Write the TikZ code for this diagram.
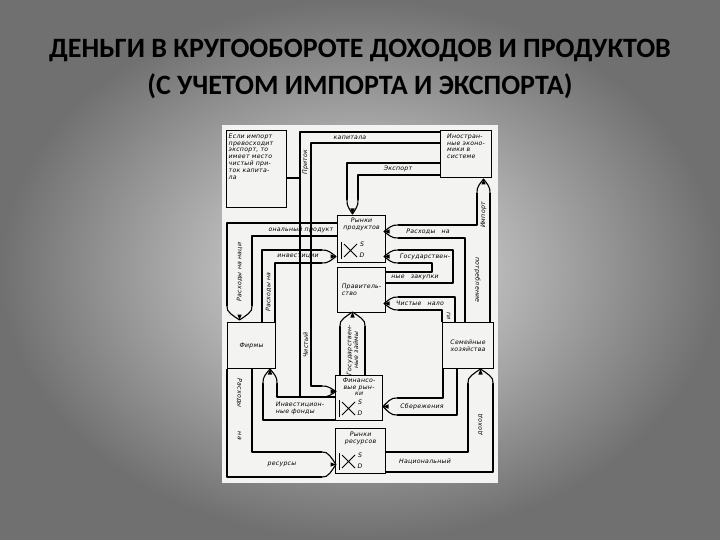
\documentclass[tikz,border=0pt]{standalone}
\usepackage{fontspec}
\setmainfont{Carlito}
\newfontfamily\handfont{DejaVu Sans}[LetterSpace=4]
\usetikzlibrary{positioning,calc}

\definecolor{paper}{RGB}{243,243,241}
\definecolor{slidein}{RGB}{228,228,228}
\definecolor{slideout}{RGB}{112,112,112}

% pencil-like arrow end: x, y, direction, half width
\newcommand{\pentip}[4]{%
  \begin{scope}[shift={(#1,#2)},rotate=#3]
    \draw[wall,fill=paper] (0,-#4) .. controls (6,-#4*1.1) and (10,-#4*0.45) .. (14,0)
      .. controls (10,#4*0.45) and (6,#4*1.1) .. (0,#4);
    \fill (8.5,-2.2) -- (14,0) -- (8.5,2.2) -- cycle;
  \end{scope}}
% small supply/demand cross: name, x, y of axis foot
\newcommand{\sdchart}[3]{%
  \draw[line width=0.8pt] (#2,#3-17) -- (#2,#3);
  \draw[line width=0.8pt] (#2+3,#3-15) -- (#2+16,#3-2) (#2+3,#3-2) -- (#2+16,#3-15);
  \node (#1S) [hand] at (#2+21,#3-15) {S};
  \node (#1D) [hand] at (#2+21,#3-4) {D};}

\begin{document}
\begin{tikzpicture}[x=1pt, y=-1pt,
  every node/.style={inner sep=0.5pt},
  hand/.style={font=\handfont\itshape\fontsize{6.2}{6.8}\selectfont},
  box/.style={draw, line width=1.1pt, inner sep=0pt, anchor=north west},
  boxtxt/.style={hand, align=center},
  wall/.style={line width=1.1pt, line join=round},
  lbl/.style={hand},
  title/.style={font=\bfseries\fontsize{28}{32}\selectfont, text=black}
]
  \useasboundingbox (0,0) rectangle (720,540);
  \shade[inner color=slidein, outer color=slideout] (0,0) rectangle (720,540);
  \fill[paper] (222,125) rectangle (498,483);

  % Title
  \node (title1) [title] at (360,50) {ДЕНЬГИ В КРУГООБОРОТЕ ДОХОДОВ И ПРОДУКТОВ};
  \node (title2) [title] at (360,86) {(С УЧЕТОМ ИМПОРТА И ЭКСПОРТА)};

  % Boxes
  \node (note) [box, minimum width=60, minimum height=77] at (226,130) {};
  \node (notetxt) [hand, align=left, anchor=north west] at (228,133)
    {Если импорт\\превосходит\\экспорт, то\\имеет место\\чистый при-\\ток капита-\\ла};
  \node (foreign) [box, minimum width=51, minimum height=47] at (440,130) {};
  \node (foreigntxt) [boxtxt, align=left, below=3pt of foreign.north]
    {Иностран-\\ные эконо-\\мики в\\системе};
  \node (prod) [box, minimum width=48, minimum height=47] at (337,215) {};
  \node (prodtxt) [boxtxt, below=2pt of prod.north] {Рынки\\продуктов};
  \node (gov) [box, minimum width=48, minimum height=45] at (337,267) {};
  \node (govtxt) [boxtxt, align=left] at (gov.center) {Правитель-\\ство};
  \node (firms) [box, minimum width=48, minimum height=46] at (227,322) {};
  \node (firmstxt) [boxtxt] at (firms.center) {Фирмы};
  \node (house) [box, minimum width=51, minimum height=46] at (442,322) {};
  \node (housetxt) [boxtxt] at (house.center) {Семейные\\хозяйства};
  \node (fin) [box, minimum width=47, minimum height=45] at (335,375) {};
  \node (fintxt) [boxtxt, below=2pt of fin.north] {Финансо-\\вые рын-\\ки};
  \node (res) [box, minimum width=50, minimum height=45] at (335,428) {};
  \node (restxt) [boxtxt, below=3pt of res.north] {Рынки\\ресурсов};
  \sdchart{prod}{341}{259}
  \sdchart{fin}{339}{417}
  \sdchart{res}{339}{470}

  % Pipes
  \draw[wall] (prod.west |- 0,223) -- (227,223) -- (227,306);
  \draw[wall] (prod.west |- 0,236) -- (252,236) -- (252,306);
  \pentip{239.5}{306}{-90}{12.5}

  \draw[wall] (firms.north -| 262,0) -- (262,250) -- (322,250);
  \draw[wall] (firms.north -| 275,0) -- (275,263) -- (322,263);
  \pentip{322}{256.5}{0}{6.5}

  \draw[wall] (foreign.west |- 0,132) -- (300,132) -- (300,397) -- (322,397);
  \draw[wall] (foreign.west |- 0,143) -- (311,143) -- (311,386) -- (322,386);
  \pentip{322}{391.5}{0}{5.5}
  \draw[wall] (note.east |- 0,178) -- (300,178);

  \draw[wall] (foreign.west |- 0,163) -- (347,163) -- (347,200);
  \draw[wall] (foreign.west |- 0,175) -- (358,175) -- (358,200);
  \pentip{352.5}{200}{-90}{5.5}

  \draw[wall] (490,193) -- (house.north -| 490,0);
  \draw[wall] (477,193) -- (477,225) -- (398,225);
  \draw[wall] (398,238) -- (465,238) -- (house.north -| 465,0);
  \pentip{483.5}{193}{90}{6.5}
  \pentip{398}{231.5}{180}{6.5}

  \draw[wall] (398,250) -- (453,250) -- (453,283) -- (gov.east |- 0,283);
  \draw[wall] (398,263) -- (432,263) -- (432,272) -- (gov.east |- 0,272);
  \pentip{398}{256.5}{180}{6.5}

  \draw[wall] (398,297) -- (455,297) -- (house.north -| 455,0);
  \draw[wall] (398,310) -- (442,310) -- (house.north -| 442,0);
  \pentip{398}{303.5}{180}{6.5}

  \draw[wall] (fin.north -| 340,0) -- (340,326);
  \draw[wall] (fin.north -| 365,0) -- (365,326);
  \pentip{352.5}{326}{90}{12.5}

  \draw[wall] (house.south -| 443,0) -- (443,398) -- (397,398);
  \draw[wall] (house.south -| 457,0) -- (457,415) -- (397,415);
  \pentip{397}{406.5}{180}{8.5}

  \draw[wall] (res.east |- 0,452) -- (468,452) -- (468,383);
  \draw[wall] (res.east |- 0,472) -- (493,472) -- (493,383);
  \pentip{480.5}{383}{90}{12.5}

  \draw[wall] (fin.west |- 0,397) -- (277,397) -- (277,383);
  \draw[wall] (fin.west |- 0,420) -- (263,420) -- (263,383);
  \pentip{270}{383}{90}{7}

  \draw[wall] (firms.south -| 227,0) -- (227,477) -- (322,477);
  \draw[wall] (firms.south -| 252,0) -- (252,452) -- (322,452);
  \pentip{322}{464.5}{0}{12.5}

  % Pipe labels
  \node (lbA1) [lbl, rotate=90] at (239.5,272) {Расходы на наци};
  \node (lbA2) [lbl, anchor=east] at (334,229.5) {ональный продукт};
  \node (lbB1) [lbl, rotate=90] at (268.5,292) {Расходы на};
  \node (lbB2) [lbl] at (298,256.5) {инвестиции};
  \node (lbC1) [lbl] at (350,137.5) {капитала};
  \node (lbC2) [lbl, rotate=90] at (305.5,162) {Приток};
  \node (lbC3) [lbl, rotate=90] at (305.5,345) {Чистый};
  \node (lbD) [lbl] at (398,169) {Экспорт};
  \node (lbE1) [lbl, rotate=90] at (483.5,215) {Импорт};
  \node (lbE2) [lbl] at (428,231.5) {Расходы\quad на};
  \node (lbE3) [lbl, rotate=-90] at (477.5,280) {потребление};
  \node (lbF1) [lbl] at (425,256.5) {Государствен-};
  \node (lbF2) [lbl] at (415,277.5) {ные\quad закупки};
  \node (lbG1) [lbl] at (420,303.5) {Чистые\quad нало};
  \node (lbG2) [lbl, rotate=-90] at (448.5,316) {ги};
  \node (lbH) [lbl, rotate=90, align=center] at (352.5,350) {Государствен-\\ные займы};
  \node (lbI) [lbl] at (422,406.5) {Сбережения};
  \node (lbJ1) [lbl] at (425,462) {Национальный};
  \node (lbJ2) [lbl, rotate=90] at (480.5,425) {доход};
  \node (lbK) [lbl, align=left] at (300,408.5) {Инвестицион-\\ные фонды};
  \node (lbL1) [lbl, rotate=-90] at (239.5,393) {Расходы};
  \node (lbL2) [lbl, rotate=-90] at (239.5,436) {на};
  \node (lbL3) [lbl] at (282,464.5) {ресурсы};
\end{tikzpicture}
\end{document}
